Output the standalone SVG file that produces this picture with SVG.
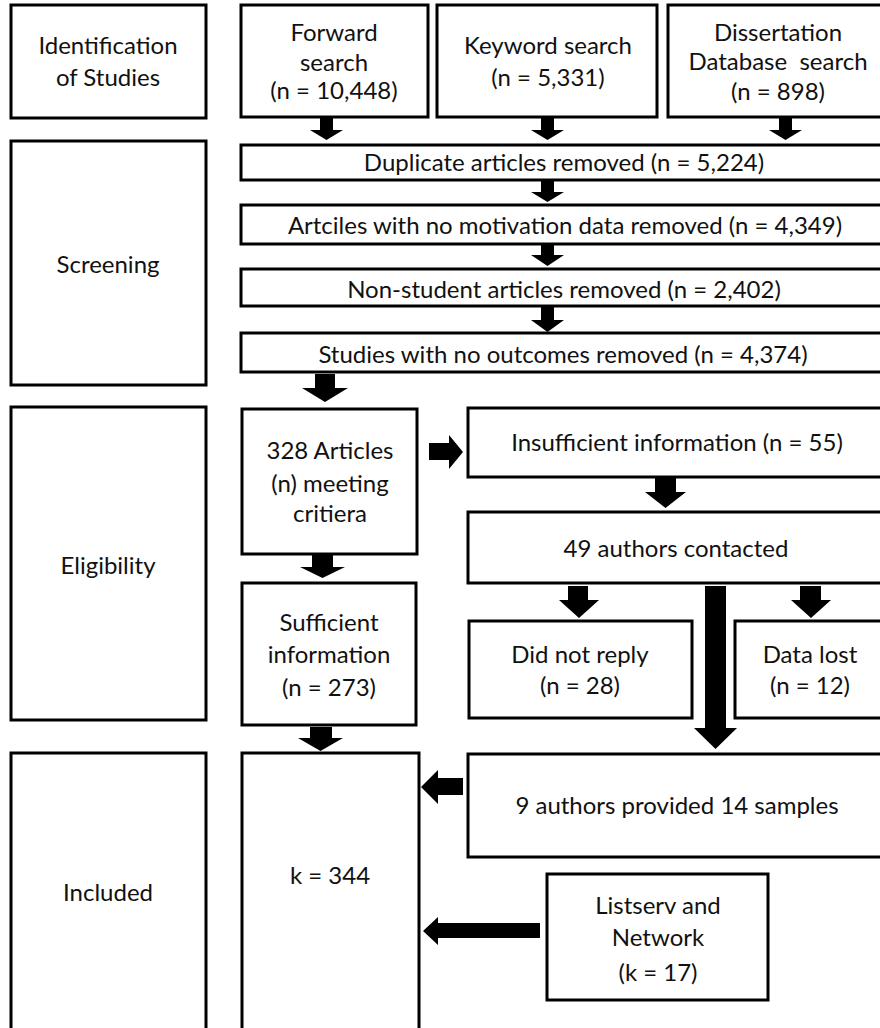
<svg xmlns="http://www.w3.org/2000/svg" width="880" height="1028" viewBox="0 0 880 1028">
<style>
.b{fill:#fff;stroke:#000;stroke-width:3}
.t{font-family:Lato,"Liberation Sans",sans-serif;font-size:24px;fill:#111;text-anchor:middle}
.a{fill:#000}
</style>
<rect width="880" height="1028" fill="#fff"/>
<g id="stage-identification"><rect class="b" x="11" y="5" width="195" height="113"/><text class="t" x="108" y="54">Identification</text><text class="t" x="108" y="86">of Studies</text></g>
<g id="stage-screening"><rect class="b" x="11" y="141" width="195" height="244"/><text class="t" x="108" y="273">Screening</text></g>
<g id="stage-eligibility"><rect class="b" x="11" y="407" width="195" height="313"/><text class="t" x="108" y="574">Eligibility</text></g>
<g id="stage-included"><rect class="b" x="11" y="753" width="195" height="300"/><text class="t" x="108" y="901">Included</text></g>

<g id="forward"><rect class="b" x="241" y="5" width="187" height="112"/><text class="t" x="334" y="41">Forward</text><text class="t" x="334" y="71">search</text><text class="t" x="334" y="99">(n = 10,448)</text></g>
<g id="keyword"><rect class="b" x="437" y="5" width="220" height="112"/><text class="t" x="548" y="54">Keyword search</text><text class="t" x="548" y="86">(n = 5,331)</text></g>
<g id="dissertation"><rect class="b" x="668" y="5" width="230" height="112"/><text class="t" x="778" y="41">Dissertation</text><text class="t" x="778" y="70" style="white-space:pre">Database  search</text><text class="t" x="778" y="100">(n = 898)</text></g>
<g id="duplicate"><rect class="b" x="241" y="145" width="660" height="35"/><text class="t" x="564" y="171">Duplicate articles removed (n = 5,224)</text></g>
<g id="nomotivation"><rect class="b" x="241" y="205" width="660" height="39"/><text class="t" x="565" y="234">Artciles with no motivation data removed (n = 4,349)</text></g>
<g id="nonstudent"><rect class="b" x="241" y="269" width="660" height="37"/><text class="t" x="564" y="298">Non-student articles removed (n = 2,402)</text></g>
<g id="nooutcomes"><rect class="b" x="241" y="333" width="660" height="39"/><text class="t" x="563" y="363">Studies with no outcomes removed (n = 4,374)</text></g>
<g id="meeting"><rect class="b" x="242" y="409" width="175" height="145"/><text class="t" x="330" y="459">328 Articles</text><text class="t" x="330" y="492">(n) meeting</text><text class="t" x="330" y="522">critiera</text></g>
<g id="insufficient"><rect class="b" x="468" y="408" width="430" height="69"/><text class="t" x="677" y="451">Insufficient information (n = 55)</text></g>
<g id="contacted"><rect class="b" x="468" y="512" width="430" height="71"/><text class="t" x="676" y="557">49 authors contacted</text></g>
<g id="sufficient"><rect class="b" x="242" y="583" width="174" height="142"/><text class="t" x="329" y="631">Sufficient</text><text class="t" x="329" y="663">information</text><text class="t" x="329" y="696">(n = 273)</text></g>
<g id="noreply"><rect class="b" x="469" y="621" width="223" height="97"/><text class="t" x="580" y="663">Did not reply</text><text class="t" x="580" y="694">(n = 28)</text></g>
<g id="datalost"><rect class="b" x="735" y="621" width="160" height="97"/><text class="t" x="810" y="663">Data lost</text><text class="t" x="810" y="694">(n = 12)</text></g>
<g id="provided"><rect class="b" x="468" y="754" width="430" height="103"/><text class="t" x="677" y="814">9 authors provided 14 samples</text></g>
<g id="final"><rect class="b" x="242" y="753" width="177" height="300"/><text class="t" x="330" y="884">k = 344</text></g>
<g id="listserv"><rect class="b" x="547" y="874" width="221" height="126"/><text class="t" x="658" y="914">Listserv and</text><text class="t" x="658" y="946">Network</text><text class="t" x="658" y="981">(k = 17)</text></g>

<g id="connectors" class="a">
<polygon points="320,118 333,118 333,130 343,130 326.5,140 310,130 320,130"/>
<polygon points="541,118 554,118 554,130 564,130 547.5,140 531,130 541,130"/>
<polygon points="779,118 792,118 792,130 802,130 785.5,140 769,130 779,130"/>
<polygon points="541,180 554,180 554,192 564,192 547.5,202 531,192 541,192"/>
<polygon points="541,245 554,245 554,255 564,255 547.5,266 531,255 541,255"/>
<polygon points="541,307 554,307 554,320 564,320 547.5,332 531,320 541,320"/>
<polygon points="315,374 335,374 335,388 348,388 325,402 302,388 315,388"/>
<polygon points="312,555 333,555 333,567 345,567 322.5,578 300,567 312,567"/>
<polygon points="429,443 449,443 449,435 463,452 449,469 449,460 429,460"/>
<polygon points="655,478 676,478 676,492 686,492 665.5,508 645,492 655,492"/>
<polygon points="568,586 588,586 588,600 599,600 579,618 559,600 568,600"/>
<polygon points="800,586 821,586 821,600 831,600 811,618 791,600 800,600"/>
<polygon points="705,586 726,586 726,728 737,728 715.5,749 694,728 705,728"/>
<polygon points="310,727 332,727 332,738 343,738 320.5,751 298,738 310,738"/>
<polygon points="463,778 463,795 438,795 438,804 421,787 438,770 438,778"/>
<polygon points="540,923 540,938 438,938 438,945 423,931 438,917 438,923"/>
</g>
</svg>
